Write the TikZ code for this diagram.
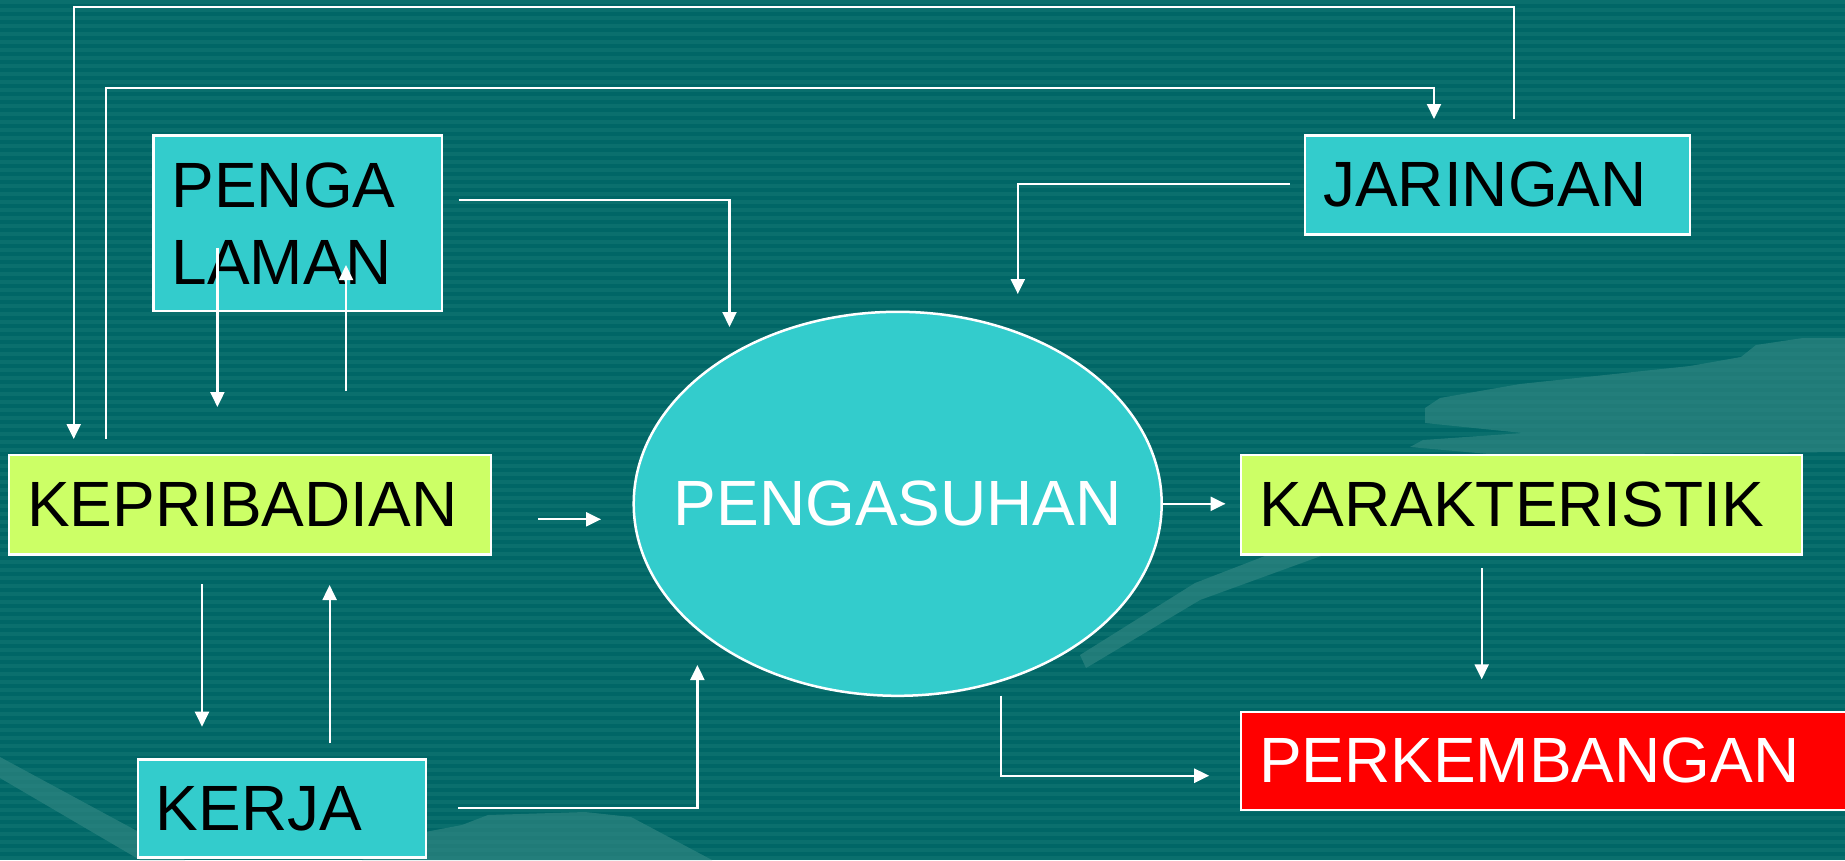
\documentclass[tikz,border=0pt]{standalone}
\usepackage{fontspec}
\setmainfont{Liberation Sans}
\usetikzlibrary{arrows.meta,shapes.geometric}
\definecolor{bgteal}{HTML}{006666}
\definecolor{stripeteal}{HTML}{0A6F6D}
\definecolor{decor}{HTML}{2E8581}
\definecolor{boxcyan}{HTML}{33CCCC}
\definecolor{boxlime}{HTML}{CCFF66}
\definecolor{boxred}{HTML}{FF0000}
\begin{document}
\begin{tikzpicture}[x=1pt,y=-1pt,
  font=\fontsize{64}{77}\selectfont,
  box/.style={draw=white, line width=2.5pt, rectangle, inner xsep=18pt, inner ysep=0pt, align=left},
  conn/.style={draw=white, line width=2.2pt},
  arr/.style={conn, -{Triangle[length=15pt,width=14pt]}},
  deco/.style={fill=decor, fill opacity=0.7}
]
\useasboundingbox (0,0) rectangle (1845,860);
% background
\fill[bgteal] (0,0) rectangle (1845,860);
\foreach \i in {0,...,107} \fill[stripeteal] (0,\i*8) rectangle (1845,\i*8+4);
% decorative shapes
\fill[deco] (1425,408) -- (1440,398) -- (1520,384) -- (1690,366) -- (1741,357) -- (1756,345) -- (1803,338) -- (1845,338) -- (1845,452) -- (1500,455) -- (1410,447) -- (1423,440) -- (1523,433) -- (1425,423) -- cycle;
\fill[deco] (1080,655) -- (1086,668) -- (1200,600) -- (1420,520) -- (1520,472) -- (1640,462) -- (1640,455) -- (1500,458) -- (1410,500) -- (1195,583) -- cycle;
\fill[deco] (0,757) -- (150,838) -- (185,860) -- (140,860) -- (0,778) -- cycle;
\fill[deco] (362,860) -- (425,832) -- (462,825) -- (488,815) -- (585,812) -- (631,817) -- (712,860) -- cycle;
% nodes
\node[box, fill=boxcyan, text width=252.4pt, minimum height=175.7pt] (peng) at (297.8,223.2) {PENGA\\LAMAN};
\node[box, fill=boxlime, text width=445.6pt, minimum height=99.3pt] (kep) at (250,504.7) {KEPRIBADIAN};
\node[box, fill=boxcyan, text width=252.2pt, minimum height=98.4pt] (kerja) at (281.9,808.5) {KERJA};
\node[box, fill=boxcyan, text width=348.8pt, minimum height=99pt] (jar) at (1497.6,184.8) {JARINGAN};
\node[box, fill=boxlime, text width=525pt, minimum height=99.3pt] (kar) at (1521.5,504.7) {KARAKTERISTIK};
\node[box, fill=boxred, text=white, text width=573pt, minimum height=98.3pt] (perk) at (1545.5,760.9) {PERKEMBANGAN};
\node[draw=white, line width=2.5pt, fill=boxcyan, ellipse, minimum width=528pt, minimum height=384pt, inner xsep=-60pt, inner ysep=0pt, text=white] (ell) at (897.7,503.8) {PENGASUHAN};
% free connector ends
\coordinate (jarTop1) at (1513.8,119);
\coordinate (kepTop1) at (73.7,439);
\coordinate (kepTop2) at (105.8,439);
\coordinate (jarTop2) at (1434,119);
\coordinate (pengOut) at (458.5,200);
\coordinate (ellIn1) at (729.5,327);
\coordinate (jarOut) at (1289.5,184);
\coordinate (ellIn2) at (1017.8,294);
\coordinate (pkDownS) at (217.4,248);
\coordinate (pkDownE) at (217.4,407);
\coordinate (kpUpS) at (346,391);
\coordinate (kpUpE) at (346,265);
\coordinate (kepOut) at (538,519.3);
\coordinate (ellIn3) at (601,519.3);
\coordinate (kkDownS) at (202,584);
\coordinate (kkDownE) at (202,726.7);
\coordinate (kkUpS) at (329.6,743.3);
\coordinate (kkUpE) at (329.6,585);
\coordinate (kerjaOut) at (458,807.7);
\coordinate (ellIn4) at (697.4,665);
\coordinate (karIn) at (1225.5,503.8);
\coordinate (karOut) at (1481.7,568.3);
\coordinate (perkIn1) at (1481.7,679.3);
\coordinate (ellOut2) at (1001.3,695.7);
\coordinate (perkIn2) at (1209.2,775.7);
\coordinate (topA) at (0,7.3);
\coordinate (topB) at (0,88);
% connectors
\draw[arr] (jarTop1) |- (topA -| kepTop1) -- (kepTop1);
\draw[arr] (kepTop2) |- (topB -| jarTop2) -- (jarTop2);
\draw[arr] (pengOut) -| (ellIn1);
\draw[arr] (jarOut) -| (ellIn2);
\draw[arr] (pkDownS) -- (pkDownE);
\draw[arr] (kpUpS) -- (kpUpE);
\draw[arr] (kepOut) -- (ellIn3);
\draw[arr] (kkDownS) -- (kkDownE);
\draw[arr] (kkUpS) -- (kkUpE);
\draw[arr] (kerjaOut) -| (ellIn4);
\draw[arr] (ell.east) -- (karIn);
\draw[arr] (karOut) -- (perkIn1);
\draw[arr] (ellOut2) |- (perkIn2);
\end{tikzpicture}
\end{document}
